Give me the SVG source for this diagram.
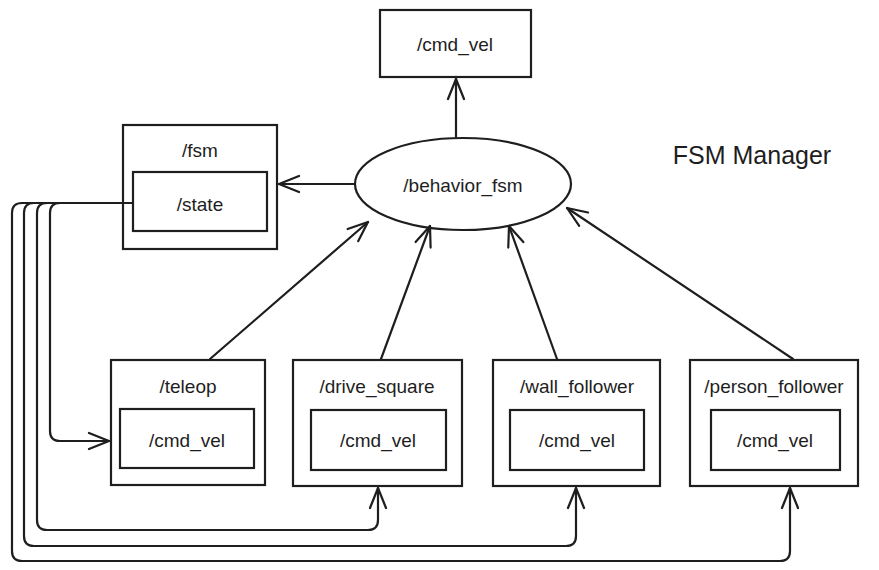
<svg xmlns="http://www.w3.org/2000/svg" width="879" height="570" viewBox="0 0 879 570">
<style>
.b{fill:#ffffff;stroke:#1e1e1e;stroke-width:2.2}
.c{fill:none;stroke:#1e1e1e;stroke-width:2.2;stroke-linecap:round;stroke-linejoin:round}
text{font-family:"Liberation Sans","DejaVu Sans",sans-serif;font-size:19px;fill:#1e1e1e;text-anchor:middle;dominant-baseline:central}
.t{font-size:25px}
</style>
<defs>
<marker id="a" viewBox="0 0 24 24" refX="23" refY="12" markerWidth="24" markerHeight="24" markerUnits="userSpaceOnUse" orient="auto">
<path d="M3,4 L23,12 L3,20" fill="none" stroke="#1e1e1e" stroke-width="2.2" stroke-linecap="round" stroke-linejoin="round"/>
</marker>
</defs>
<rect width="879" height="570" fill="#ffffff"/>
<g id="cmd_vel_top"><rect class="b" x="380" y="10" width="151" height="67"/><text x="455" y="44">/cmd_vel</text></g>
<g id="behavior_fsm"><ellipse class="b" cx="463" cy="184" rx="108" ry="46"/><text x="463" y="185">/behavior_fsm</text></g>
<g id="fsm"><rect class="b" x="123" y="125" width="154" height="124"/><text x="200" y="150">/fsm</text>
<g id="state"><rect class="b" x="133" y="172" width="134" height="59"/><text x="200" y="204">/state</text></g></g>
<g id="teleop"><rect class="b" x="111" y="360" width="154" height="125"/><text x="188" y="386">/teleop</text>
<rect class="b" x="120" y="409" width="134" height="59"/><text x="187" y="440">/cmd_vel</text></g>
<g id="drive_square"><rect class="b" x="293" y="360" width="169" height="126"/><text x="377" y="386">/drive_square</text>
<rect class="b" x="311" y="410" width="135" height="60"/><text x="378" y="440">/cmd_vel</text></g>
<g id="wall_follower"><rect class="b" x="493" y="360" width="167" height="126"/><text x="577" y="386">/wall_follower</text>
<rect class="b" x="510" y="410" width="134" height="60"/><text x="577" y="440">/cmd_vel</text></g>
<g id="person_follower"><rect class="b" x="690" y="360" width="168" height="126"/><text x="774" y="386">/person_follower</text>
<rect class="b" x="711" y="410" width="129" height="60"/><text x="775" y="440">/cmd_vel</text></g>
<text class="t" x="752" y="155">FSM Manager</text>
<g id="connectors">
<path class="c" marker-end="url(#a)" d="M456,137 L456,79"/>
<path class="c" marker-end="url(#a)" d="M355,184 L279,184"/>
<path class="c" marker-end="url(#a)" d="M210,359 L368,222"/>
<path class="c" marker-end="url(#a)" d="M381,359 L430,226"/>
<path class="c" marker-end="url(#a)" d="M557,359 L509,226"/>
<path class="c" marker-end="url(#a)" d="M793,359 L567,208"/>
<path class="c" marker-end="url(#a)" d="M132,203 L60,203 Q50,203 50,213 L50,431 Q50,441 60,441 L109,441"/>
<path class="c" marker-end="url(#a)" d="M132,203 L47,203 Q37,203 37,213 L37,520 Q37,530 47,530 L368,530 Q378,530 378,520 L378,488"/>
<path class="c" marker-end="url(#a)" d="M132,203 L34,203 Q24,203 24,213 L24,536 Q24,546 34,546 L566,546 Q576,546 576,536 L576,488"/>
<path class="c" marker-end="url(#a)" d="M132,203 L22,203 Q12,203 12,213 L12,551 Q12,561 22,561 L780,561 Q790,561 790,551 L790,488"/>
</g>
</svg>
